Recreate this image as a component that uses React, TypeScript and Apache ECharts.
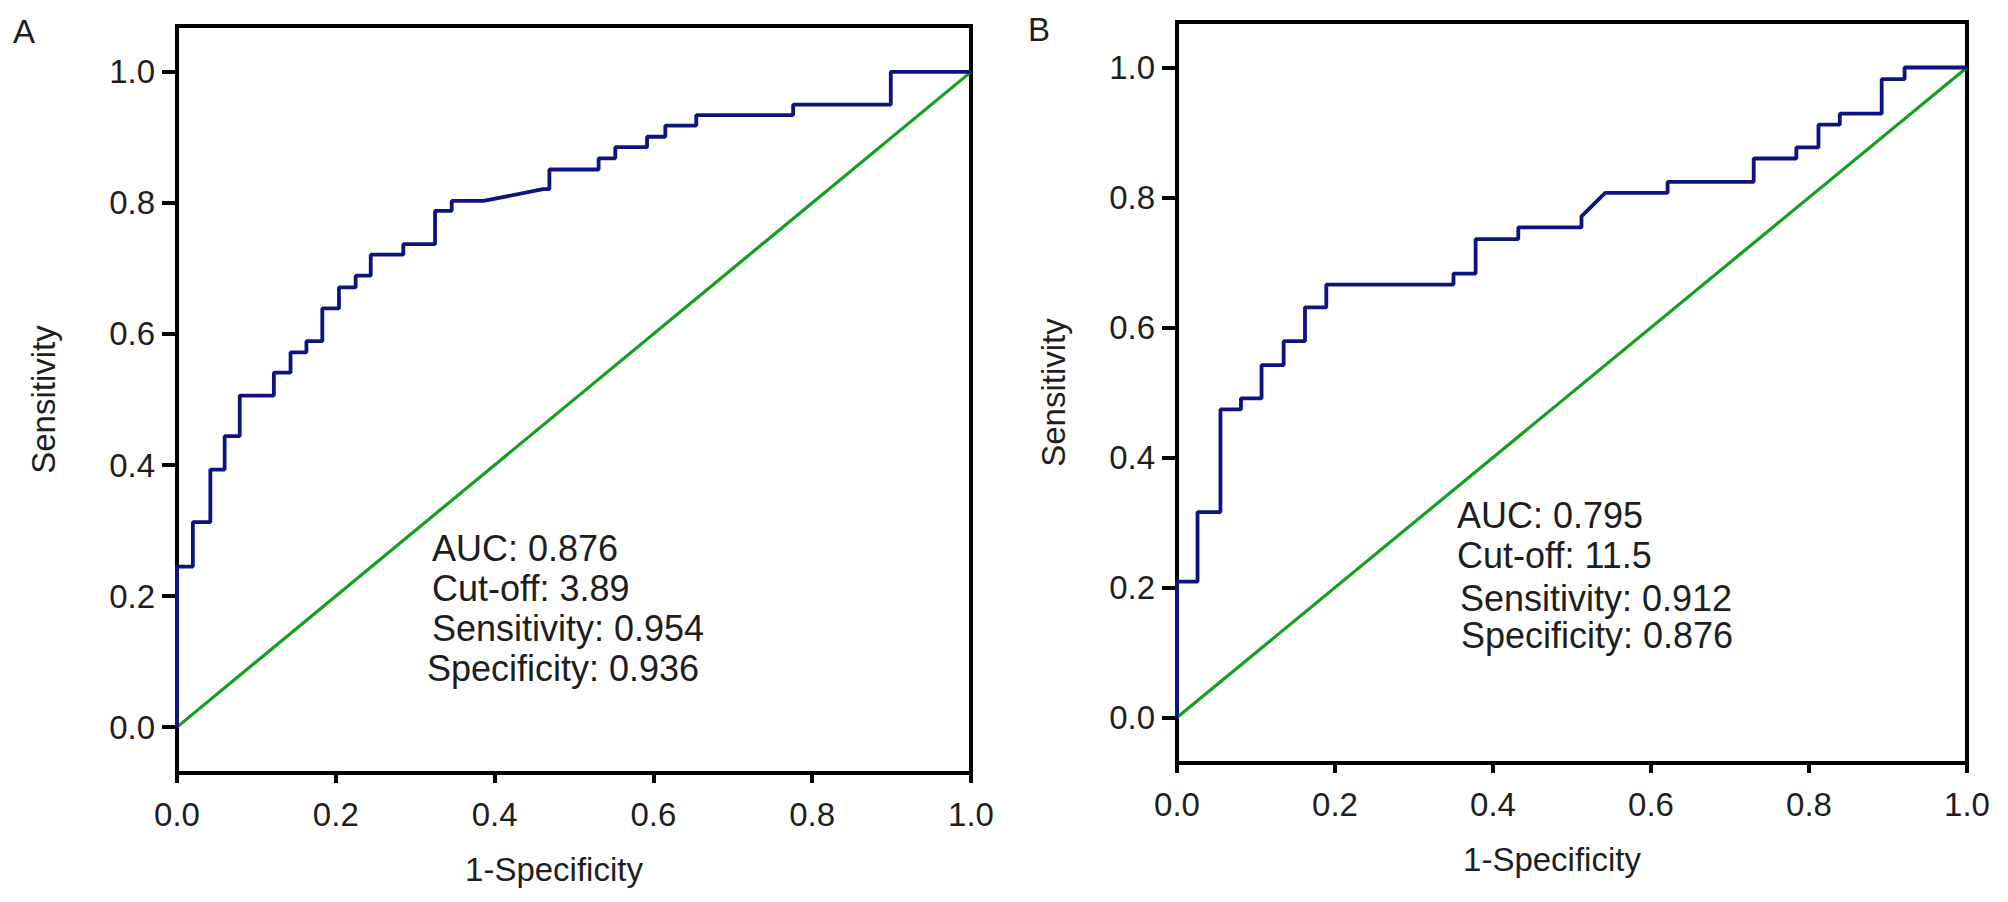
import { useEffect, useRef } from 'react'
import * as echarts from 'echarts'

// ROC curve A (1-specificity, sensitivity)
const rocAX = [0, 0, 0.02, 0.02, 0.042, 0.042, 0.06, 0.06, 0.079, 0.079, 0.122, 0.122, 0.143, 0.143, 0.163, 0.163, 0.183, 0.183, 0.204, 0.204, 0.225, 0.225, 0.244, 0.244, 0.285, 0.285, 0.325, 0.325, 0.346, 0.346, 0.386, 0.461, 0.469, 0.469, 0.531, 0.531, 0.552, 0.552, 0.592, 0.592, 0.615, 0.615, 0.654, 0.654, 0.776, 0.776, 0.899, 0.899, 1]
const rocAY = [0, 0.245, 0.245, 0.313, 0.313, 0.393, 0.393, 0.444, 0.444, 0.506, 0.506, 0.541, 0.541, 0.572, 0.572, 0.589, 0.589, 0.639, 0.639, 0.671, 0.671, 0.689, 0.689, 0.721, 0.721, 0.737, 0.737, 0.788, 0.788, 0.803, 0.803, 0.821, 0.821, 0.851, 0.851, 0.868, 0.868, 0.885, 0.885, 0.901, 0.901, 0.918, 0.918, 0.934, 0.934, 0.95, 0.95, 1, 1]

// ROC curve B
const rocBX = [0, 0, 0.026, 0.026, 0.055, 0.055, 0.081, 0.081, 0.107, 0.107, 0.135, 0.135, 0.162, 0.162, 0.189, 0.189, 0.35, 0.35, 0.378, 0.378, 0.432, 0.432, 0.512, 0.512, 0.542, 0.621, 0.621, 0.73, 0.73, 0.784, 0.784, 0.812, 0.812, 0.839, 0.839, 0.892, 0.892, 0.921, 0.921, 1]
const rocBY = [0, 0.209, 0.209, 0.316, 0.316, 0.474, 0.474, 0.491, 0.491, 0.542, 0.542, 0.579, 0.579, 0.631, 0.631, 0.666, 0.666, 0.683, 0.683, 0.736, 0.736, 0.754, 0.754, 0.771, 0.807, 0.807, 0.824, 0.824, 0.86, 0.86, 0.877, 0.877, 0.912, 0.912, 0.929, 0.929, 0.982, 0.982, 1, 1]

const refLine = [[0, 0], [1, 1]]
const tickValues = [0, 0.2, 0.4, 0.6, 0.8, 1]

const statsA = ['AUC: 0.876', 'Cut-off: 3.89', 'Sensitivity: 0.954', 'Specificity: 0.936']
const statsB = ['AUC: 0.795', 'Cut-off: 11.5', 'Sensitivity: 0.912', 'Specificity: 0.876']

const FONT = '"Liberation Sans", Arial, Helvetica, sans-serif'
const TEXT = '#1e1e1e'

const zip = (xs: number[], ys: number[]) => xs.map((x, i) => [x, ys[i]])

function xAxisFor(gridIndex: number) {
  return {
    type: 'value',
    gridIndex,
    min: 0,
    max: 1,
    name: '1-Specificity',
    nameLocation: 'middle',
    nameGap: 80,
    nameTextStyle: { fontFamily: FONT, fontSize: 33, color: TEXT, padding: [0, 40, 0, 0] },
    axisLine: { onZero: false, lineStyle: { color: '#000', width: 4 } },
    axisTick: { customValues: tickValues, length: 10, lineStyle: { color: '#000', width: 4 } },
    axisLabel: {
      customValues: tickValues,
      margin: 25,
      fontFamily: FONT,
      fontSize: 33,
      color: TEXT,
      formatter: (v: number) => v.toFixed(1),
    },
    splitLine: { show: false },
  }
}

function yAxisFor(gridIndex: number, nameGap: number) {
  return {
    type: 'value',
    gridIndex,
    min: -0.07,
    max: 1.07,
    name: 'Sensitivity',
    nameLocation: 'middle',
    nameGap,
    nameTextStyle: { fontFamily: FONT, fontSize: 33, color: TEXT },
    axisLine: { onZero: false, lineStyle: { color: '#000', width: 4 } },
    axisTick: { customValues: tickValues, length: 15, lineStyle: { color: '#000', width: 4 } },
    axisLabel: {
      customValues: tickValues,
      margin: 22,
      fontFamily: FONT,
      fontSize: 33,
      color: TEXT,
      formatter: (v: number) => v.toFixed(1),
    },
    splitLine: { show: false },
  }
}

function statText(lines: string[], lefts: number[], tops: number[]) {
  return lines.map((t, i) => ({
    type: 'text',
    left: lefts[i],
    top: tops[i],
    style: { text: t, fontFamily: FONT, fontSize: 36, fill: TEXT },
  }))
}

export default function App() {
  const chartRef = useRef<HTMLDivElement>(null)

  useEffect(() => {
    if (!chartRef.current) return
    const chart = echarts.init(chartRef.current, null, { renderer: 'svg' })

    const curve = (xi: number, data: number[][]) => ({
      type: 'line',
      xAxisIndex: xi,
      yAxisIndex: xi,
      data,
      showSymbol: false,
      clip: false,
      lineStyle: { color: '#0c1480', width: 3.8 },
      z: 3,
    })
    const diag = (xi: number) => ({
      type: 'line',
      xAxisIndex: xi,
      yAxisIndex: xi,
      data: refLine,
      showSymbol: false,
      clip: false,
      lineStyle: { color: '#14a01e', width: 3.2 },
      z: 2,
    })

    chart.setOption({
      animation: false,
      backgroundColor: '#fff',
      grid: [
        { left: 177, top: 26, width: 794, height: 747, show: true, borderColor: '#000', borderWidth: 4 },
        { left: 1177, top: 22, width: 790, height: 741, show: true, borderColor: '#000', borderWidth: 4 },
      ],
      xAxis: [xAxisFor(0), xAxisFor(1)],
      yAxis: [yAxisFor(0, 117), yAxisFor(1, 107)],
      series: [diag(0), curve(0, zip(rocAX, rocAY)), diag(1), curve(1, zip(rocBX, rocBY))],
      graphic: [
        { type: 'text', left: 13, top: 15, style: { text: 'A', fontFamily: FONT, fontSize: 33, fill: TEXT } },
        { type: 'text', left: 1028, top: 13, style: { text: 'B', fontFamily: FONT, fontSize: 33, fill: TEXT } },
        ...statText(statsA, [432, 432, 432, 427], [530, 570, 610, 650]),
        ...statText(statsB, [1457, 1457, 1460, 1461], [497, 537, 580, 617]),
      ],
    })

    return () => {
      chart.dispose()
    }
  }, [])

  return (
    <div
      ref={chartRef}
      style={{ position: 'absolute', left: 0, top: 0, width: '2008px', height: '902px', background: '#fff' }}
    ></div>
  )
}
